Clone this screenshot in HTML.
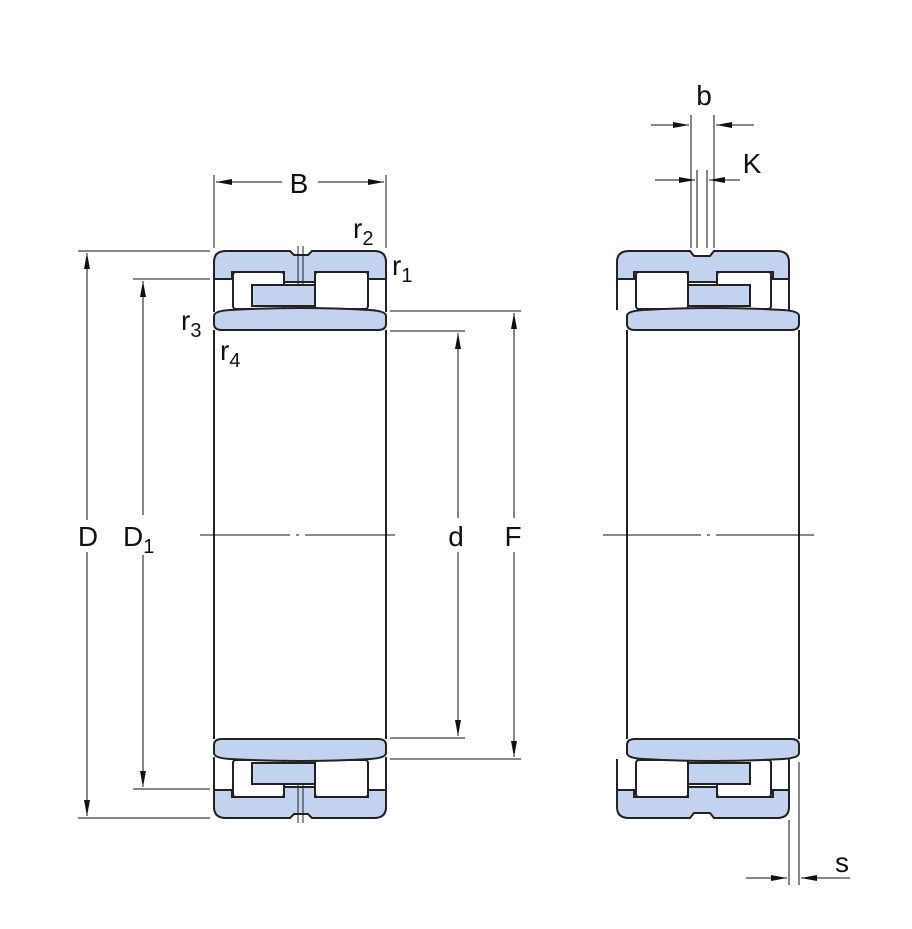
<!DOCTYPE html>
<html><head><style>body{margin:0;background:#fff}svg{display:block}text{font-family:"Liberation Sans",sans-serif;fill:#111}</style></head><body>
<svg width="912" height="929" viewBox="0 0 912 929" xmlns="http://www.w3.org/2000/svg">
<defs>
<marker id="a" viewBox="0 0 16 6" refX="16" refY="3" markerWidth="16" markerHeight="6" markerUnits="userSpaceOnUse" orient="auto"><path d="M0,0L16,3L0,6z" fill="#111"/></marker>
<g id="topL">
 <path d="M214,279 L214,262 Q214,251 226,251 L290,251 L294,255 L308,255 L312,251 L374,251 Q386,251 386,262 L386,279 L368,279 L368,272 L315,272 L315,282 L284,282 L284,272 L232,272 L232,279 Z" fill="#c3d2ee" stroke="#222" stroke-width="2"/>
 <rect x="233" y="272" width="51" height="37" rx="3" fill="#fff" stroke="#222" stroke-width="2"/>
 <rect x="315" y="272" width="53" height="37" rx="3" fill="#fff" stroke="#222" stroke-width="2"/>
 <rect x="252" y="285" width="63" height="21" fill="#c3d2ee" stroke="#222" stroke-width="2"/>
 <line x1="214" y1="278" x2="214" y2="312" stroke="#222" stroke-width="2"/>
 <line x1="386" y1="278" x2="386" y2="312" stroke="#222" stroke-width="2"/>
 <path d="M214,316 Q214,311 230,310 Q300,306 370,310 Q386,311 386,316 L386,324 Q386,330 378,330 L222,330 Q214,330 214,324 Z" fill="#c3d2ee" stroke="#222" stroke-width="2"/>
 <line x1="298" y1="246" x2="298" y2="285" stroke="#222" stroke-width="1"/><line x1="303" y1="246" x2="303" y2="285" stroke="#222" stroke-width="1"/>
</g>
<g id="topR">
 <path d="M617,279 L617,262 Q617,251 629,251 L690,251 L694,256 L710,256 L714,251 L777,251 Q789,251 789,262 L789,279 L773,279 L773,272 L717,272 L717,282 L688,282 L688,272 L634,272 L634,279 Z" fill="#c3d2ee" stroke="#222" stroke-width="2"/>
 <rect x="636" y="272" width="52" height="37" rx="3" fill="#fff" stroke="#222" stroke-width="2"/>
 <rect x="717" y="272" width="54" height="37" rx="3" fill="#fff" stroke="#222" stroke-width="2"/>
 <rect x="688" y="285" width="62" height="21" fill="#c3d2ee" stroke="#222" stroke-width="2"/>
 <line x1="617" y1="278" x2="617" y2="310" stroke="#222" stroke-width="2"/>
 <line x1="789" y1="278" x2="789" y2="310" stroke="#222" stroke-width="2"/>
 <path d="M627,316 Q627,311 643,310 Q713,306 783,310 Q799,311 799,316 L799,324 Q799,330 791,330 L635,330 Q627,330 627,324 Z" fill="#c3d2ee" stroke="#222" stroke-width="2"/>
</g>
</defs>
<use href="#topL"/><use href="#topL" transform="translate(0,1069) scale(1,-1)"/>
<use href="#topR"/><use href="#topR" transform="translate(0,1069) scale(1,-1)"/>
<g stroke="#222" stroke-width="2" fill="none">
<line x1="214" y1="330" x2="214" y2="739"/><line x1="386" y1="330" x2="386" y2="739"/>
<line x1="627" y1="330" x2="627" y2="739"/><line x1="799" y1="330" x2="799" y2="739"/>
</g>
<g stroke="#111" stroke-width="1" fill="none">
<line x1="200" y1="535" x2="400" y2="535" stroke-dasharray="90,6,3,6"/>
<line x1="603" y1="535" x2="815" y2="535" stroke-dasharray="98,6,3,6"/>
<line x1="78" y1="251" x2="210" y2="251"/><line x1="78" y1="818" x2="210" y2="818"/>
<line x1="133" y1="279" x2="210" y2="279"/><line x1="133" y1="789" x2="210" y2="789"/>
<line x1="390" y1="331" x2="465" y2="331"/><line x1="390" y1="738" x2="465" y2="738"/>
<line x1="390" y1="311" x2="521" y2="311"/><line x1="390" y1="759" x2="521" y2="759"/>
<line x1="214" y1="175" x2="214" y2="248"/><line x1="386" y1="175" x2="386" y2="248"/>
<line x1="691" y1="115" x2="691" y2="248"/><line x1="714" y1="115" x2="714" y2="248"/>
<line x1="697" y1="170" x2="697" y2="248"/><line x1="707" y1="170" x2="707" y2="248"/>
<line x1="789" y1="820" x2="789" y2="885"/><line x1="799" y1="762" x2="799" y2="885"/>
<line x1="87" y1="520" x2="87" y2="253" marker-end="url(#a)"/><line x1="87" y1="552" x2="87" y2="816" marker-end="url(#a)"/>
<line x1="143" y1="515" x2="143" y2="281" marker-end="url(#a)"/><line x1="143" y1="555" x2="143" y2="787" marker-end="url(#a)"/>
<line x1="458" y1="518" x2="458" y2="333" marker-end="url(#a)"/><line x1="458" y1="552" x2="458" y2="736" marker-end="url(#a)"/>
<line x1="514" y1="518" x2="514" y2="313" marker-end="url(#a)"/><line x1="514" y1="552" x2="514" y2="757" marker-end="url(#a)"/>
<line x1="282" y1="182" x2="216" y2="182" marker-end="url(#a)"/><line x1="318" y1="182" x2="384" y2="182" marker-end="url(#a)"/>
<line x1="651" y1="125" x2="689" y2="125" marker-end="url(#a)"/><line x1="754" y1="125" x2="716" y2="125" marker-end="url(#a)"/>
<line x1="655" y1="180" x2="695" y2="180" marker-end="url(#a)"/><line x1="740" y1="180" x2="709" y2="180" marker-end="url(#a)"/>
<line x1="746" y1="878" x2="787" y2="878" marker-end="url(#a)"/><line x1="850" y1="878" x2="801" y2="878" marker-end="url(#a)"/>
</g>
<g font-size="28">
<text x="299" y="193" text-anchor="middle">B</text>
<text x="353" y="238">r<tspan font-size="20" dy="7">2</tspan></text>
<text x="392" y="275">r<tspan font-size="20" dy="7">1</tspan></text>
<text x="181" y="330">r<tspan font-size="20" dy="7">3</tspan></text>
<text x="220" y="360">r<tspan font-size="20" dy="7">4</tspan></text>
<text x="88" y="546" text-anchor="middle">D</text>
<text x="123" y="546">D<tspan font-size="20" dy="7">1</tspan></text>
<text x="456" y="546" text-anchor="middle">d</text>
<text x="513" y="546" text-anchor="middle">F</text>
<text x="704" y="105" text-anchor="middle">b</text>
<text x="752" y="173" text-anchor="middle">K</text>
<text x="842" y="872" text-anchor="middle">s</text>
</g>
</svg>
</body></html>
